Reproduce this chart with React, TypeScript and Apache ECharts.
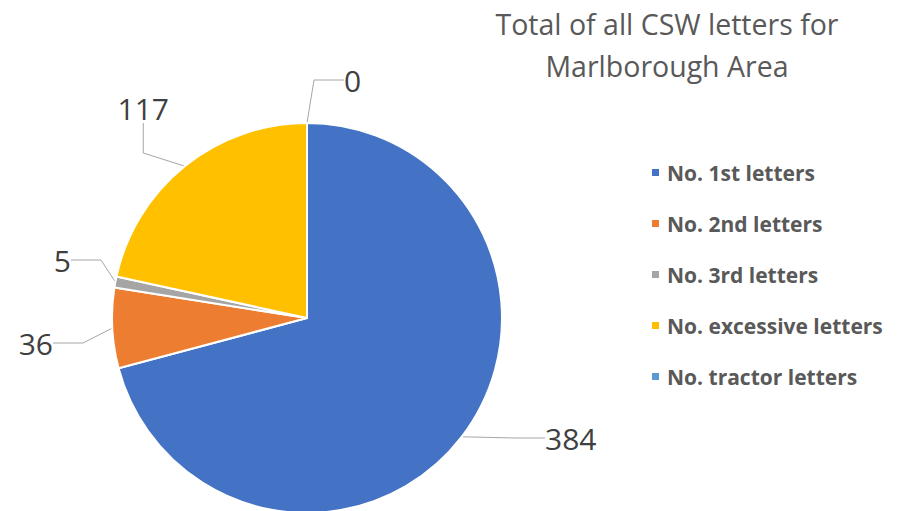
import React, { useEffect, useRef } from "react";
import * as echarts from "echarts";

const categories = [
  "No. 1st letters",
  "No. 2nd letters",
  "No. 3rd letters",
  "No. excessive letters",
  "No. tractor letters",
];
const values = [384, 36, 5, 117, 0];
const colors = ["#4472C4", "#ED7D31", "#A5A5A5", "#FFC000", "#5B9BD5"];
const titleText = "Total of all CSW letters for\nMarlborough Area";

// label anchor positions (style/layout)
const labelPos = [
  { x: 545, y: 438, align: "left" },
  { x: 53, y: 343, align: "right" },
  { x: 71, y: 260, align: "right" },
  { x: 169, y: 108, align: "right" },
  { x: 344, y: 80, align: "left" },
];

export default function App() {
  const ref = useRef<HTMLDivElement>(null);
  useEffect(() => {
    document.body.style.margin = "0";
    const chart = echarts.init(ref.current!, null, { renderer: "svg" });
    chart.setOption({
      animation: false,
      backgroundColor: "#ffffff",
      title: {
        text: titleText,
        left: 662,
        top: -2,
        textAlign: "center",
        textStyle: {
          fontFamily: "Open Sans",
          fontSize: 28.5,
          fontWeight: "normal",
          color: "#595959",
          lineHeight: 42,
        },
      },
      legend: {
        orient: "vertical",
        left: 645,
        top: 157,
        itemGap: 30,
        itemWidth: 9,
        itemHeight: 9,
        icon: "rect",
        textStyle: {
          fontFamily: "Open Sans",
          fontSize: 21,
          fontWeight: "bold",
          color: "#595959",
          padding: [0, 0, 0, 2],
        },
        data: categories,
      },
      series: [
        {
          type: "pie",
          center: [307, 318],
          radius: 195,
          startAngle: 90,
          clockwise: true,
          avoidLabelOverlap: false,
          itemStyle: { borderColor: "#ffffff", borderWidth: 2 },
          label: {
            show: true,
            position: "outside",
            formatter: "{c}",
            fontFamily: "Open Sans",
            fontSize: 30,
            color: "#404040",
          },
          labelLine: {
            show: true,
            lineStyle: { color: "#A6A6A6", width: 1 },
          },
          labelLayout: (p: any) => {
            const lp = labelPos[p.dataIndex];
            return { x: lp.x, y: lp.y, align: lp.align, verticalAlign: "middle" };
          },
          emphasis: { disabled: true },
          data: categories.map((c, i) => ({
            name: c,
            value: values[i],
            itemStyle: { color: colors[i] },
          })),
        },
      ],
    });
    return () => chart.dispose();
  }, []);
  return <div ref={ref} style={{ width: 898, height: 511 }} />;
}
